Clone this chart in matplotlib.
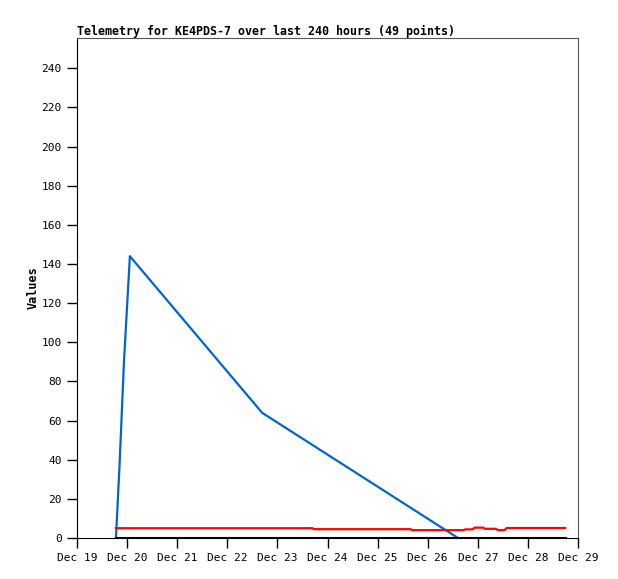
import matplotlib
matplotlib.use("Agg")
import matplotlib.pyplot as plt
import matplotlib.dates as mdates
import pandas as pd

# 遥测数据
blue_times = ["2023-12-19 18:40", "2023-12-19 20:30", "2023-12-19 22:30",
              "2023-12-20 01:20", "2023-12-22 16:40", "2023-12-26 14:30"]
blue_values = [0, 40, 90, 144, 64, 0]

red_times = ["2023-12-19 18:40", "2023-12-23 16:50", "2023-12-23 17:30",
             "2023-12-25 15:50", "2023-12-25 16:30", "2023-12-26 17:10",
             "2023-12-26 18:00", "2023-12-26 21:30", "2023-12-26 22:30",
             "2023-12-27 02:30", "2023-12-27 03:30", "2023-12-27 08:40",
             "2023-12-27 09:40", "2023-12-27 12:50", "2023-12-27 13:50",
             "2023-12-28 17:50"]
red_values = [5.0, 5.0, 4.5, 4.5, 4.0, 4.0, 4.4, 4.4, 5.3, 5.3, 4.7, 4.7,
              4.0, 4.0, 5.1, 5.1]

black_times = ["2023-12-19 18:40", "2023-12-28 17:50"]
black_values = [0, 0]

x_start, x_end = "2023-12-19", "2023-12-29"
y_ticks = list(range(0, 241, 20))

title = "Telemetry for KE4PDS-7 over last 240 hours (49 points)"

plt.rcParams['font.family'] = ['DejaVu Sans Mono']

fig = plt.figure(figsize=(6.18, 5.79), dpi=100)
ax = fig.add_axes([77 / 618, 41 / 579, 501 / 618, 500 / 579])

ax.plot(pd.to_datetime(blue_times), blue_values, color="#0066cc", lw=1.6)
ax.plot(pd.to_datetime(red_times), red_values, color="#ff0000", lw=1.6)
ax.plot(pd.to_datetime(black_times), black_values, color="black", lw=2.2)

ax.set_xlim(pd.Timestamp(x_start), pd.Timestamp(x_end))
ax.set_ylim(0, 255.5)
ax.set_yticks(y_ticks)
ax.xaxis.set_major_locator(mdates.DayLocator())
ax.xaxis.set_major_formatter(mdates.DateFormatter("%b %d"))

ax.tick_params(direction="out", length=7, width=1, labelsize=8, pad=4)
for side in ["top", "right"]:
    ax.spines[side].set_color("#555555")
for side in ["left", "bottom"]:
    ax.spines[side].set_color("black")

ax.set_ylabel("Values", fontsize=8.5, fontweight="bold", labelpad=1)
fig.text(77 / 618, 1 - 31 / 579, title, fontsize=8.4, fontweight="bold",
         ha="left", va="center")

fig.savefig("out.png", dpi=100)
